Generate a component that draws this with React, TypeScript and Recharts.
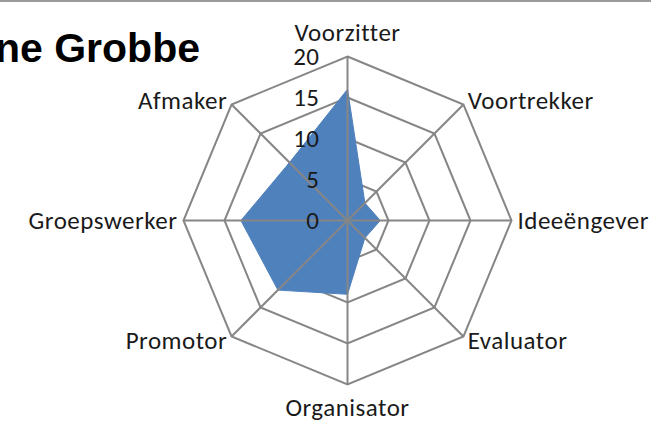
import React from 'react';
import { RadarChart, PolarGrid, PolarAngleAxis, PolarRadiusAxis, Radar } from 'recharts';

const roles = ['Voorzitter', 'Voortrekker', 'Ideeëngever', 'Evaluator', 'Organisator', 'Promotor', 'Groepswerker', 'Afmaker'];
const scores = [16, 3, 4, 3, 9, 12, 13, 10];
const radiusTicks = [0, 5, 10, 15, 20];
const titleText = 'ne Grobbe';

const data = roles.map((role, i) => ({ role, score: scores[i] }));

const CX = 347.5;
const CY = 220.5;
const R = 164;
const labelFont = 'Carlito, Lato, "Noto Sans", sans-serif';
const labelSize = 25;
const gridColor = '#868686';

// category labels sit just outside the outer ring; top/bottom ones pushed further away
const AngleTick = (props: any) => {
    const { payload } = props;
    const a = (payload.coordinate * Math.PI) / 180;
    const cos = Math.cos(a);
    const sin = Math.sin(a);
    const x = CX + (R + 6) * cos;
    let y = CY - (R + 6) * sin;
    let anchor = 'middle';
    if (cos > 0.01) anchor = 'start';
    else if (cos < -0.01) anchor = 'end';
    else y += sin > 0 ? -18 : 17;
    return (
        <text x={x} y={y} textAnchor={anchor} dominantBaseline="central" letterSpacing={0.5}
            fontSize={labelSize} fill="#1a1a1a" fontFamily={labelFont}>
            {payload.value}
        </text>
    );
};

const RadiusTick = (props: any) => {
    const { x, y, payload } = props;
    return (
        <text x={x - 28} y={y} textAnchor="end" dominantBaseline="central" letterSpacing={0.5}
            fontSize={labelSize} fill="#1a1a1a" fontFamily={labelFont}>
            {payload.value}
        </text>
    );
};

export default function App() {
    return (
        <div style={{ position: 'absolute', left: 0, top: 0, width: 651, height: 422, background: '#fff', overflow: 'hidden' }}>
            <div style={{ position: 'absolute', left: 0, top: 0, width: 651, height: 2, background: '#9a9a9a' }} />
            <svg width={651} height={422} style={{ position: 'absolute', left: 0, top: 0 }}>
                <text x={200} y={62} textAnchor="end" fontSize={41} fontWeight="bold"
                    fontFamily='"Liberation Sans", Arial, sans-serif' fill="#000">
                    {titleText}
                </text>
            </svg>
            <div style={{ position: 'absolute', left: 0, top: 0 }}>
                <RadarChart width={651} height={422} data={data} cx={CX} cy={CY} outerRadius={R}
                    margin={{ top: 0, right: 0, bottom: 0, left: 0 }} startAngle={90} endAngle={-270}>
                    <PolarGrid gridType="polygon" radialLines={false} stroke={gridColor} strokeWidth={2} />
                    <Radar dataKey="score" fill="#4f81bd" fillOpacity={1} stroke="#4f81bd" strokeWidth={1} dot={false}
                        isAnimationActive={false} />
                    {/* spokes drawn as inward tick lines so they sit above the filled area */}
                    <PolarAngleAxis dataKey="role" tick={<AngleTick />} orientation="inner" tickSize={R}
                        axisLine={false} tickLine={{ stroke: gridColor, strokeWidth: 2 }} />
                    <PolarRadiusAxis angle={90} domain={[0, 20]} ticks={radiusTicks as any} tickCount={5}
                        tick={<RadiusTick />} axisLine={false} tickLine={false} />
                </RadarChart>
            </div>
        </div>
    );
}
